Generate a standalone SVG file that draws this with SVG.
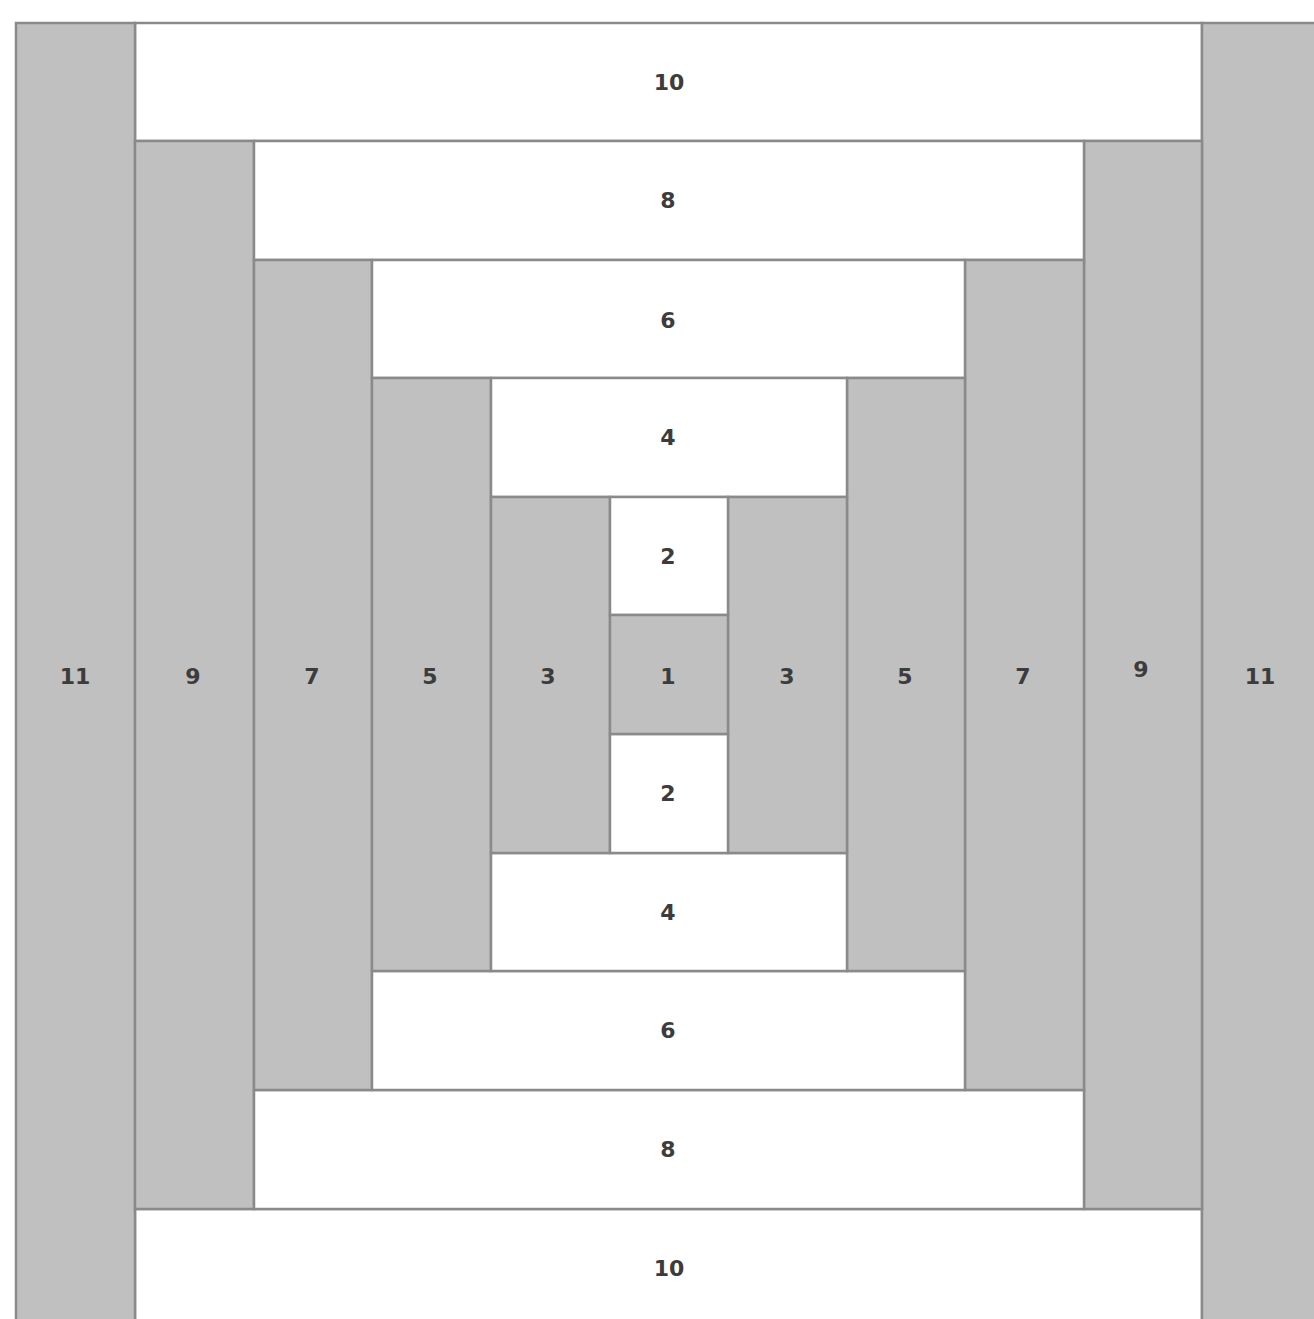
<svg xmlns="http://www.w3.org/2000/svg" width="1314" height="1319" viewBox="0 0 1314 1319">
<style>
.g{fill:#c0c0c0;stroke:#8a8a8a;stroke-width:2.5}
.w{fill:#ffffff;stroke:#8a8a8a;stroke-width:2.5}
text{font-family:"DejaVu Sans",Verdana,sans-serif;font-weight:bold;font-size:22px;fill:#3c3c3c;text-anchor:middle;dominant-baseline:central}
</style>
<rect width="1314" height="1319" fill="#ffffff"/>
<g id="n10-top"><rect class="w" x="135" y="23" width="1067" height="118"/><text x="669" y="82">10</text></g>
<g id="n10-bottom"><rect class="w" x="135" y="1209" width="1067" height="120"/><text x="669" y="1268">10</text></g>
<g id="n11-left"><rect class="g" x="16" y="23" width="119" height="1306"/><text x="75" y="676">11</text></g>
<g id="n11-right"><rect class="g" x="1202" y="23" width="120" height="1306"/><text x="1260" y="676">11</text></g>
<g id="n9-left"><rect class="g" x="135" y="141" width="119" height="1068"/><text x="193" y="676">9</text></g>
<g id="n9-right"><rect class="g" x="1084" y="141" width="118" height="1068"/><text x="1141" y="669">9</text></g>
<g id="n8-top"><rect class="w" x="254" y="141" width="830" height="119"/><text x="668" y="200">8</text></g>
<g id="n8-bottom"><rect class="w" x="254" y="1090" width="830" height="119"/><text x="668" y="1149">8</text></g>
<g id="n7-left"><rect class="g" x="254" y="260" width="118" height="830"/><text x="312" y="676">7</text></g>
<g id="n7-right"><rect class="g" x="965" y="260" width="119" height="830"/><text x="1023" y="676">7</text></g>
<g id="n6-top"><rect class="w" x="372" y="260" width="593" height="118"/><text x="668" y="320">6</text></g>
<g id="n6-bottom"><rect class="w" x="372" y="971" width="593" height="119"/><text x="668" y="1030">6</text></g>
<g id="n5-left"><rect class="g" x="372" y="378" width="119" height="593"/><text x="430" y="676">5</text></g>
<g id="n5-right"><rect class="g" x="847" y="378" width="118" height="593"/><text x="905" y="676">5</text></g>
<g id="n4-top"><rect class="w" x="491" y="378" width="356" height="119"/><text x="668" y="437">4</text></g>
<g id="n4-bottom"><rect class="w" x="491" y="853" width="356" height="118"/><text x="668" y="912">4</text></g>
<g id="n3-left"><rect class="g" x="491" y="497" width="119" height="356"/><text x="548" y="676">3</text></g>
<g id="n3-right"><rect class="g" x="728" y="497" width="119" height="356"/><text x="787" y="676">3</text></g>
<g id="n2-top"><rect class="w" x="610" y="497" width="118" height="118"/><text x="668" y="556">2</text></g>
<g id="n2-bottom"><rect class="w" x="610" y="734" width="118" height="119"/><text x="668" y="793">2</text></g>
<g id="n1"><rect class="g" x="610" y="615" width="118" height="119"/><text x="668" y="676">1</text></g>
<g id="connectors"></g>
</svg>
